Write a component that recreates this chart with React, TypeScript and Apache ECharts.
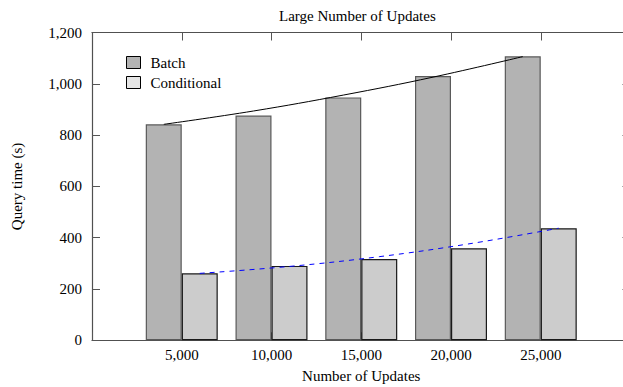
import React, { useEffect, useRef } from "react";
import * as echarts from "echarts";

const updates = [5000, 10000, 15000, 20000, 25000];
const batch = [842, 876, 947, 1030, 1107];
const conditional = [261, 290, 317, 359, 437];
const batchTrend = [842, 894, 956, 1026, 1106];
const conditionalTrend = [261, 288, 326, 376, 437];
const yTicks = [0, 200, 400, 600, 800, 1000, 1200];

const FONT = "Liberation Serif";
const fmt = (v: number) => v.toLocaleString("en-US");

export default function App() {
  const ref = useRef<HTMLDivElement>(null);
  useEffect(() => {
    if (!ref.current) return;
    const chart = echarts.init(ref.current, undefined, { renderer: "svg" });
    const halfBar = 1000;
    const tick = { show: true, inside: true, length: 8, lineStyle: { color: "#555", width: 1 } };
    const line = { show: true, onZero: false, lineStyle: { color: "#505050", width: 1.2 } };
    chart.setOption({
      animation: false,
      backgroundColor: "#ffffff",
      textStyle: { fontFamily: FONT, color: "#000" },
      title: {
        text: "Large Number of Updates",
        left: 279,
        top: 8,
        padding: 0,
        textStyle: { fontFamily: FONT, fontSize: 15, fontWeight: "normal", color: "#000" },
      },
      legend: {
        orient: "vertical",
        left: 126,
        top: 55,
        itemWidth: 14,
        itemHeight: 12,
        itemGap: 5,
        padding: 0,
        textStyle: { fontFamily: FONT, fontSize: 15, color: "#000", padding: [0, 0, 0, 5] },
        data: [
          { name: "Batch", icon: "rect", itemStyle: { color: "#b3b3b3", borderColor: "#000", borderWidth: 1 } },
          { name: "Conditional", icon: "rect", itemStyle: { color: "#e5e5e5", borderColor: "#000", borderWidth: 1 } },
        ],
      },
      grid: {
        left: 92,
        right: -7.5,
        top: 32.5,
        bottom: 46.7,
        containLabel: false,
        outerBoundsMode: "none",
      },
      xAxis: [
        {
          type: "value",
          position: "bottom",
          min: 0,
          max: 30000,
          interval: 5000,
          name: "Number of Updates",
          nameLocation: "middle",
          nameGap: 28,
          nameTextStyle: { fontFamily: FONT, fontSize: 15, color: "#000" },
          axisLine: line,
          axisTick: tick,
          axisLabel: {
            fontFamily: FONT,
            fontSize: 15,
            color: "#000",
            margin: 7,
            formatter: (v: number) => (updates.includes(v) ? fmt(v) : ""),
          },
          splitLine: { show: false },
        },
        {
          type: "value",
          position: "top",
          min: 0,
          max: 30000,
          interval: 5000,
          axisLine: line,
          axisTick: tick,
          axisLabel: { show: false },
          splitLine: { show: false },
        },
      ],
      yAxis: [
        {
          type: "value",
          position: "left",
          min: yTicks[0],
          max: yTicks[yTicks.length - 1],
          interval: 200,
          name: "Query time (s)",
          nameLocation: "middle",
          nameGap: 68,
          nameRotate: 90,
          nameTextStyle: { fontFamily: FONT, fontSize: 15, color: "#000" },
          axisLine: line,
          axisTick: tick,
          axisLabel: { fontFamily: FONT, fontSize: 15, color: "#000", margin: 10, formatter: (v: number) => fmt(v) },
          splitLine: { show: false },
        },
        {
          type: "value",
          position: "right",
          min: yTicks[0],
          max: yTicks[yTicks.length - 1],
          interval: 200,
          axisLine: line,
          axisTick: tick,
          axisLabel: { show: false },
          splitLine: { show: false },
        },
      ],
      series: [
        {
          name: "Batch",
          type: "bar",
          barWidth: 36,
          barGap: "0%",
          data: updates.map((u, i) => [u, batch[i]]),
          itemStyle: { color: "#b3b3b3", borderColor: "#5a5a5a", borderWidth: 1.2 },
          z: 3,
        },
        {
          name: "Conditional",
          type: "bar",
          barWidth: 36,
          barGap: "0%",
          data: updates.map((u, i) => [u, conditional[i]]),
          itemStyle: { color: "#cccccc", borderColor: "#1a1a1a", borderWidth: 1.2 },
          z: 3,
        },
        {
          name: "Batch trend",
          type: "line",
          smooth: 0.4,
          showSymbol: false,
          symbol: "none",
          data: updates.map((u, i) => [u - halfBar, batchTrend[i]]),
          lineStyle: { color: "#000", width: 1 },
          z: 5,
        },
        {
          name: "Conditional trend",
          type: "line",
          smooth: 0.4,
          showSymbol: false,
          symbol: "none",
          data: updates.map((u, i) => [u + halfBar, conditionalTrend[i]]),
          lineStyle: { color: "#0000ff", width: 1, type: [5, 5] },
          z: 5,
        },
      ],
    });
    return () => chart.dispose();
  }, []);
  return (
    <div
      ref={ref}
      style={{ position: "fixed", left: 0, top: 0, width: 623, height: 387, background: "#fff" }}
    />
  );
}
